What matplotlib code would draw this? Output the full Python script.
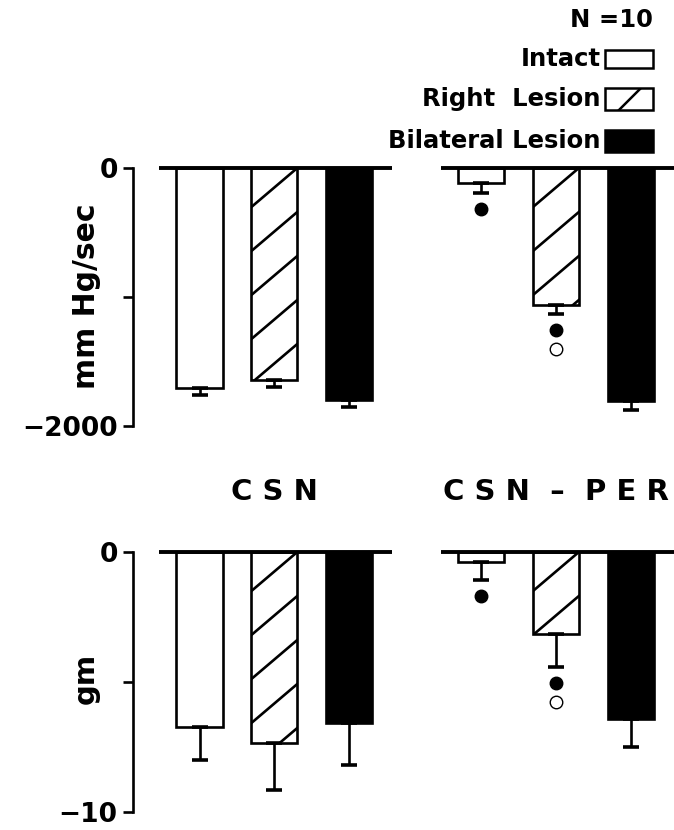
import matplotlib
matplotlib.use('Agg')
import matplotlib.pyplot as plt
import numpy as np
from matplotlib.patches import Rectangle
from matplotlib.lines import Line2D
from matplotlib.transforms import ScaledTranslation, blended_transform_factory, IdentityTransform

# ---------------- data ----------------
groups = ['C S N', 'C S N  \u2013  P E R']
conditions = ['Intact', 'Right  Lesion', 'Bilateral Lesion']

# top panel: dP/dt (mmHg/sec)
dpdt_mean = [[-1705, -1643, -1798], [-116, -1062, -1806]]
dpdt_se = [[55, 57, 55], [78, 70, 70]]
# bottom panel: force (gm)
force_mean = [[-6.73, -7.35, -6.58], [-0.38, -3.15, -6.42]]
force_se = [[1.27, 1.80, 1.62], [0.70, 1.27, 1.08]]

# significance marks (filled dot / open circle) below bars
sig_filled = [[False, False, False], [True, True, False]]
sig_open = [[False, False, False], [False, True, False]]

top_ticks = [-2000, -1000, 0]
top_ticklabels = ['\u22122000', '', '0']
bot_ticks = [-10, -5, 0]
bot_ticklabels = ['\u221210', '', '0']
n_label = 'N =10'

# ---------------- style ----------------
W, H = 674, 830
fig = plt.figure(figsize=(W / 100, H / 100), dpi=100)
BOLD = dict(family='DejaVu Sans', weight='bold')

group_gap = 3.73
bar_step = 0.99
bar_w = 0.61
faces = ['white', 'white', 'black']
hatched = [False, True, False]


def px_rect(x0, ytop, x1, ybot):
    return [x0 / W, 1 - ybot / H, (x1 - x0) / W, (ybot - ytop) / H]


ax1 = fig.add_axes(px_rect(133, 168, 674, 426))
ax2 = fig.add_axes(px_rect(133, 552, 674, 812))

xlim = (-0.881, 6.285)


def add_hatch(patch, spacing=44, slope=0.85, phase=0, lw=1.9):
    bb = patch.get_extents()
    x0, x1, yb, yt = bb.x0, bb.x1, bb.y0, bb.y1
    w = x1 - x0
    k = 0
    while True:
        yr = yt - phase - k * spacing
        yl = yr - slope * w
        if yr < yb - 2:
            break
        ln = Line2D([x0 - 5, x1 + 5], [yl - slope * 5, yr + slope * 5],
                    transform=IdentityTransform(), color='black', lw=lw,
                    zorder=patch.get_zorder() + 0.5, solid_capstyle='butt')
        ln.set_clip_path(patch)
        fig.add_artist(ln)
        k += 1


def draw_panel(ax, means, ses, ticks, ticklabels, ylim):
    ax.set_xlim(*xlim)
    ax.set_ylim(*ylim)
    for s in ['top', 'right', 'bottom']:
        ax.spines[s].set_visible(False)
    ax.spines['left'].set_linewidth(1.9)
    ax.set_xticks([])
    ax.set_yticks(ticks)
    ax.set_yticklabels(ticklabels, **BOLD)
    ax.tick_params(axis='y', direction='out', length=7, width=1.9,
                   labelsize=19, pad=4)
    for gi in range(len(groups)):
        xs = [gi * group_gap + bi * bar_step for bi in range(len(conditions))]
        ax.hlines(0, xs[0] - 0.53, xs[-1] + 0.57, color='black', lw=2.8,
                  zorder=4, clip_on=False)
        for bi, x in enumerate(xs):
            m = means[gi][bi]
            se = ses[gi][bi]
            bars = ax.bar(x, m, width=bar_w, color=faces[bi],
                          edgecolor='black', linewidth=1.9, zorder=2)
            if hatched[bi]:
                add_hatch(bars[0])
            ax.errorbar(x, m, yerr=[[se], [0]], fmt='none', ecolor='black',
                        elinewidth=1.9, capsize=5.5, capthick=2.6, zorder=3)
            end = m - se
            if sig_filled[gi][bi]:
                tr = ax.transData + ScaledTranslation(0, -0.16, fig.dpi_scale_trans)
                ax.plot([x], [end], 'o', color='black', ms=9, transform=tr,
                        clip_on=False, zorder=5)
            if sig_open[gi][bi]:
                tr = ax.transData + ScaledTranslation(0, -0.35, fig.dpi_scale_trans)
                ax.plot([x], [end], 'o', mfc='white', mec='black', mew=1.0,
                        ms=9, transform=tr, clip_on=False, zorder=5)


draw_panel(ax1, dpdt_mean, dpdt_se, top_ticks, top_ticklabels, (-2000, 0))
draw_panel(ax2, force_mean, force_se, bot_ticks, bot_ticklabels, (-10, 0))

# y labels
fig.text(87 / W, 1 - 296 / H, 'mm Hg/sec', rotation=90, ha='center',
         va='center', fontsize=21.5, **BOLD)
fig.text(86 / W, 1 - 678 / H, 'gm', rotation=90, ha='center',
         va='center', fontsize=21, **BOLD)

# group titles
tt = blended_transform_factory(ax1.transData, fig.transFigure)
for gi, g in enumerate(groups):
    xc = gi * group_gap + bar_step
    ax1.text(xc, 1 - 492 / H, g, transform=tt, ha='center', va='center',
             fontsize=21, clip_on=False, **BOLD)

# legend
LEG = dict(family='DejaVu Sans', weight='bold', fontsize=17.5)
fig.text(653 / W, 1 - 20 / H, n_label, ha='right', va='center', **LEG)
leg_y = [59, 99, 141]
leg_h = [18, 22, 22]
for i, lab in enumerate(conditions):
    fig.text(601 / W, 1 - leg_y[i] / H, lab, ha='right', va='center', **LEG)
    r = Rectangle((605 / W, 1 - (leg_y[i] + leg_h[i] / 2) / H), 48 / W,
                  leg_h[i] / H, transform=fig.transFigure,
                  facecolor=faces[i], edgecolor='black', linewidth=1.8,
                  zorder=3)
    fig.add_artist(r)
    if hatched[i]:
        add_hatch(r, spacing=36, slope=1.0, phase=-12, lw=1.8)

fig.savefig('out.png', dpi=100)
